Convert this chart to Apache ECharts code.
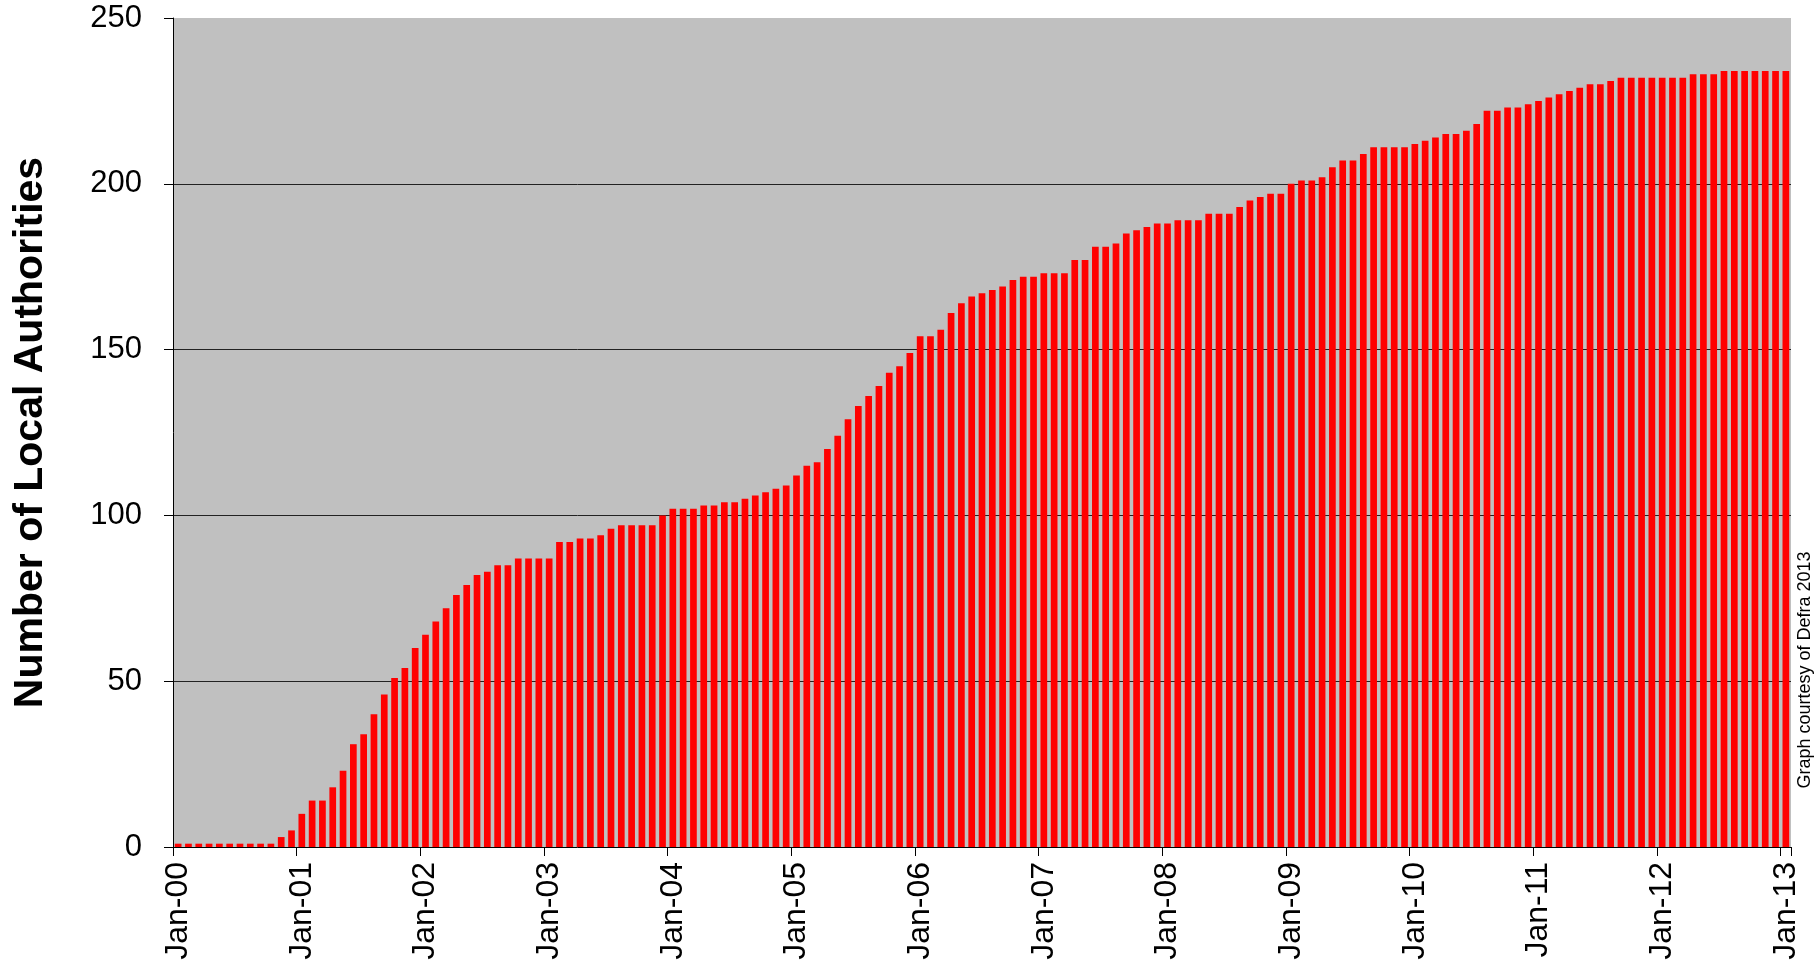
<!DOCTYPE html>
<html>
<head>
<meta charset="utf-8">
<script src="https://cdn.jsdelivr.net/npm/echarts@6/dist/echarts.min.js"></script>
<style>
  html, body { margin: 0; padding: 0; background: #ffffff; }
  #chart { width: 1814px; height: 965px; }
</style>
</head>
<body>
<div id="chart"></div>
<script>
// Cumulative number of Local Authorities, monthly values (Jan..Dec) per year
const y2000 = [1, 1, 1, 1, 1, 1, 1, 1, 1, 1, 3, 5];
const y2001 = [10, 14, 14, 18, 23, 31, 34, 40, 46, 51, 54, 60];
const y2002 = [64, 68, 72, 76, 79, 82, 83, 85, 85, 87, 87, 87];
const y2003 = [87, 92, 92, 93, 93, 94, 96, 97, 97, 97, 97, 100];
const y2004 = [102, 102, 102, 103, 103, 104, 104, 105, 106, 107, 108, 109];
const y2005 = [112, 115, 116, 120, 124, 129, 133, 136, 139, 143, 145, 149];
const y2006 = [154, 154, 156, 161, 164, 166, 167, 168, 169, 171, 172, 172];
const y2007 = [173, 173, 173, 177, 177, 181, 181, 182, 185, 186, 187, 188];
const y2008 = [188, 189, 189, 189, 191, 191, 191, 193, 195, 196, 197, 197];
const y2009 = [200, 201, 201, 202, 205, 207, 207, 209, 211, 211, 211, 211];
const y2010 = [212, 213, 214, 215, 215, 216, 218, 222, 222, 223, 223, 224];
const y2011 = [225, 226, 227, 228, 229, 230, 230, 231, 232, 232, 232, 232];
const y2012 = [232, 232, 232, 233, 233, 233, 234, 234, 234, 234, 234, 234];
const y2013 = [234];

const monthNames = ['Jan', 'Feb', 'Mar', 'Apr', 'May', 'Jun', 'Jul', 'Aug', 'Sep', 'Oct', 'Nov', 'Dec'];
const yearSuffixes = ['00', '01', '02', '03', '04', '05', '06', '07', '08', '09', '10', '11', '12', '13'];
const yearSeries = [y2000, y2001, y2002, y2003, y2004, y2005, y2006, y2007, y2008, y2009, y2010, y2011, y2012, y2013];

const yTicks = [0, 50, 100, 150, 200, 250];
const yAxisTitle = 'Number of Local Authorities';
const creditText = 'Graph courtesy of Defra 2013';

const categories = [];
const values = [];
yearSeries.forEach(function (arr, yi) {
  arr.forEach(function (v, mi) {
    categories.push(monthNames[mi] + '-' + yearSuffixes[yi]);
    values.push(v);
  });
});

const FONT = "'Liberation Sans', Arial, Helvetica, sans-serif";
const everyJan = function (index) { return index % 12 === 0 && index < categories.length; };

const chart = echarts.init(document.getElementById('chart'), null, { renderer: 'canvas' });
chart.setOption({
  animation: false,
  backgroundColor: '#ffffff',
  grid: {
    left: 173, right: 23, top: 18, bottom: 118,
    show: true, backgroundColor: '#C0C0C0', borderWidth: 0
  },
  xAxis: {
    type: 'category',
    data: categories,
    boundaryGap: true,
    axisLine: { show: true, lineStyle: { color: '#000000', width: 1 } },
    axisTick: { show: true, interval: everyJan, length: 9, lineStyle: { color: '#000000', width: 1 } },
    axisLabel: {
      interval: everyJan, rotate: 90, margin: 15,
      fontFamily: FONT, fontSize: 32, color: '#000000'
    },
    splitLine: { show: false }
  },
  yAxis: {
    type: 'value',
    min: yTicks[0], max: yTicks[yTicks.length - 1], interval: 50,
    name: yAxisTitle,
    nameLocation: 'middle',
    nameGap: 122,
    nameTextStyle: { fontFamily: FONT, fontSize: 41, fontWeight: 'bold', color: '#000000' },
    axisLine: { show: true, lineStyle: { color: '#000000', width: 1 } },
    axisTick: { show: true, length: 9, lineStyle: { color: '#000000', width: 1 } },
    axisLabel: { margin: 31, fontFamily: FONT, fontSize: 31, color: '#000000' },
    splitLine: {
      show: true, showMinLine: false, showMaxLine: false,
      lineStyle: { color: '#222222', width: 1 }
    }
  },
  series: [{
    type: 'bar',
    data: values,
    barCategoryGap: '35%',
    itemStyle: { color: '#FF0000' }
  }],
  graphic: [{
    type: 'text',
    x: 1805, y: 670,
    rotation: Math.PI / 2,
    style: {
      text: creditText,
      fontFamily: FONT, fontSize: 18, fill: '#000000',
      align: 'center', verticalAlign: 'middle'
    }
  }]
});
</script>
</body>
</html>
